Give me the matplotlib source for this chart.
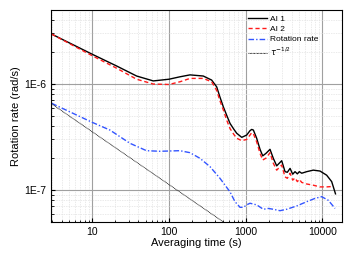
import numpy as np
import matplotlib.pyplot as plt
from matplotlib.ticker import LogLocator, FixedLocator, FixedFormatter, NullFormatter

plt.rcParams['font.family'] = ['Liberation Sans', 'DejaVu Sans']

# averaging time (s) and Allan deviations
tau_ai1 = [2.96, 10, 20.8, 37.9, 62.5, 100, 139, 188, 280, 360, 419, 460, 511,
           570, 625, 700, 764, 888, 1030, 1138, 1197, 1259, 1390, 1537, 1667,
           1841, 2075, 2291, 2535, 2946, 3256, 3488, 3786, 4100, 4395, 4710,
           5000, 5370, 6240, 7600, 9290, 11350, 13200, 14800]
ai1 = [2.96e-6, 1.91e-6, 1.48e-6, 1.19e-6, 1.07e-6, 1.11e-6, 1.17e-6, 1.22e-6,
       1.19e-6, 1.09e-6, 9.4e-7, 7.6e-7, 6.1e-7, 5.0e-7, 4.25e-7, 3.75e-7,
       3.43e-7, 3.14e-7, 3.3e-7, 3.63e-7, 3.73e-7, 3.68e-7, 3.08e-7, 2.42e-7,
       2.1e-7, 2.22e-7, 2.42e-7, 1.99e-7, 1.69e-7, 1.89e-7, 1.49e-7, 1.47e-7,
       1.6e-7, 1.41e-7, 1.49e-7, 1.42e-7, 1.49e-7, 1.44e-7, 1.49e-7, 1.54e-7,
       1.51e-7, 1.38e-7, 1.2e-7, 9.2e-8]

tau_ai2 = [2.96, 10, 20.8, 37.9, 62.5, 100, 139, 188, 280, 360, 419, 460, 511,
           570, 625, 700, 764, 888, 1030, 1138, 1197, 1259, 1390, 1537, 1667,
           1841, 2075, 2291, 2535, 2946, 3256, 3488, 3786, 4100, 4395, 4710,
           5000, 5370, 6240, 7600, 9290, 11350, 13600]
ai2 = [2.96e-6, 1.85e-6, 1.41e-6, 1.11e-6, 1.0e-6, 0.99e-6, 1.05e-6, 1.13e-6,
       1.13e-6, 1.05e-6, 8.7e-7, 7.0e-7, 5.7e-7, 4.5e-7, 3.8e-7, 3.35e-7,
       3.08e-7, 2.92e-7, 3.0e-7, 3.3e-7, 3.47e-7, 3.4e-7, 2.85e-7, 2.22e-7,
       1.92e-7, 2.0e-7, 2.25e-7, 1.79e-7, 1.54e-7, 1.72e-7, 1.33e-7, 1.29e-7,
       1.44e-7, 1.24e-7, 1.3e-7, 1.2e-7, 1.26e-7, 1.18e-7, 1.14e-7, 1.11e-7,
       1.07e-7, 1.07e-7, 1.08e-7]

tau_rot = [2.96, 10, 17, 31, 51, 76, 139, 188, 254, 343, 462, 625, 725, 843,
           933, 1030, 1138, 1390, 1700, 1972, 2291, 2800, 3420, 4620, 6240,
           8020, 9770, 11930, 14600]
rot = [6.58e-7, 4.35e-7, 3.68e-7, 2.76e-7, 2.35e-7, 2.32e-7, 2.35e-7, 2.25e-7,
       1.99e-7, 1.66e-7, 1.29e-7, 9.6e-8, 7.76e-8, 6.87e-8, 6.86e-8, 7.24e-8,
       7.5e-8, 7.24e-8, 6.58e-8, 6.7e-8, 6.58e-8, 6.38e-8, 6.58e-8, 7.07e-8,
       7.76e-8, 8.34e-8, 8.65e-8, 8.0e-8, 6.7e-8]

tau_ref = [2.96, 511]
ref = [6.5e-7, 5.0e-8]

fig = plt.figure(figsize=(3.49, 2.62), dpi=100)
ax = fig.add_axes([0.146, 0.153, 0.834, 0.809])

ax.plot(tau_ai1, ai1, color='black', lw=1.0, label='AI 1')
ax.plot(tau_ai2, ai2, color='#ff1a1a', lw=1.0, ls=(0, (3, 2)), label='AI 2')
ax.plot(tau_rot, rot, color='#3355ff', lw=1.0, ls=(0, (4, 1.5, 1, 1.5)), label='Rotation rate')
ax.plot(tau_ref, ref, color='black', lw=0.6, ls=(0, (1, 0.7)), label=r'$\tau^{-1/2}$')

ax.set_xscale('log')
ax.set_yscale('log')
ax.set_xlim(2.9, 18000)
ax.set_ylim(5e-8, 5e-6)

ax.yaxis.set_major_locator(FixedLocator([1e-7, 1e-6]))
ax.yaxis.set_major_formatter(FixedFormatter(['1E-7', '1E-6']))
ax.yaxis.set_minor_locator(LogLocator(base=10, subs=np.arange(2, 10)))
ax.yaxis.set_minor_formatter(NullFormatter())
ax.xaxis.set_major_locator(FixedLocator([10, 100, 1000, 10000]))
ax.xaxis.set_major_formatter(FixedFormatter(['10', '100', '1000', '10000']))
ax.xaxis.set_minor_locator(LogLocator(base=10, subs=np.arange(2, 10)))
ax.xaxis.set_minor_formatter(NullFormatter())

ax.grid(True, which='major', color='#a0a0a0', lw=0.8)
ax.grid(True, which='minor', color='#e2e2e2', lw=0.5, ls=(0, (2, 1.5)))
ax.set_axisbelow(True)

ax.tick_params(which='both', direction='in', labelsize=7.5)
ax.tick_params(which='major', length=3)
ax.tick_params(which='minor', length=1.8)

ax.set_xlabel('Averaging time (s)', fontsize=8, labelpad=1)
ax.set_ylabel('Rotation rate (rad/s)', fontsize=8, labelpad=2)

leg = ax.legend(loc='upper left', bbox_to_anchor=(0.66, 1.0), fontsize=6,
                frameon=False, handlelength=2.3, labelspacing=0.3,
                borderaxespad=0.2, handletextpad=0.35)

fig.savefig('out.png', dpi=100)
